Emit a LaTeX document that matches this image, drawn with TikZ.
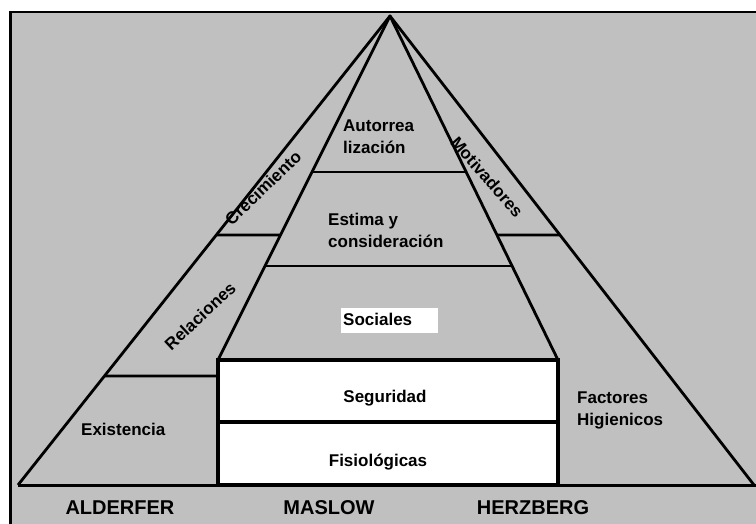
\documentclass[tikz,border=0pt]{standalone}
\usepackage{fontspec}
\setmainfont{Liberation Sans}
\usetikzlibrary{calc}
\definecolor{panel}{HTML}{C0C0C0}
\begin{document}
\begin{tikzpicture}[x=1pt,y=-1pt,
  edge/.style={line width=2.8pt, line join=round},
  boxline/.style={line width=3.6pt},
  lbl/.style={font=\fontsize{17}{22}\selectfont\bfseries, inner sep=0pt},
  theory/.style={font=\fontsize{20}{24}\selectfont\bfseries, inner sep=0pt},
  tag/.style={fill=white, inner sep=0pt, anchor=north west}
]
\useasboundingbox (0,0) rectangle (756,523);
\clip (0,0) rectangle (756,523);
\fill[white] (0,0) rectangle (756,523);
% grey panel
\draw[fill=panel, line width=2.5pt] (10.5,12) rectangle (780,540);

% pyramid geometry
\coordinate (apex) at (390,16);
\coordinate (outL) at (18,485);
\coordinate (outR) at (754,485);
\coordinate (inL) at (218,360);
\coordinate (inR) at (558,360);
\coordinate (baseR) at (760,485);

% lower Maslow levels
\fill[white] (218,360) rectangle (558,485);

% outer (Alderfer / Herzberg) and inner (Maslow) sides
\draw[edge] (outL) -- (apex) -- (outR);
\draw[edge] (inL) -- (apex) -- (inR);

% Maslow level separators
\draw[edge] ($(apex)!0.4535!(inL)$) -- ($(apex)!0.4535!(inR)$);
\draw[edge] ($(apex)!0.7267!(inL)$) -- ($(apex)!0.7267!(inR)$);

% Alderfer / Herzberg separators
\draw[edge] ($(apex)!0.467!(outL)$) -- ($(apex)!0.6366!(inL)$);
\draw[edge] ($(apex)!0.6366!(inR)$) -- ($(apex)!0.467!(outR)$);
\draw[edge] ($(apex)!0.7676!(outL)$) -- (218,376);

% base line
\draw[line width=3pt] (outL) -- (baseR);

% box of the two lowest levels
\draw[boxline] (218,360) rectangle (558,485);
\draw[boxline] (218,422) -- (558,422);

% Maslow labels
\node[lbl, anchor=base west] (autoA) at (343,131) {Autorrea};
\node[lbl, anchor=base west] (autoB) at (343,153) {lización};
\node[lbl, anchor=base west] (estA) at (328,225) {Estima y};
\node[lbl, anchor=base west] (estB) at (328,247) {consideración};
\node[tag, minimum width=97pt, minimum height=25pt] (socbox) at (341,308) {};
\node[lbl, anchor=base west] (soc) at (343,325) {Sociales};
\node[lbl, anchor=base] (seg) at (385,402) {Seguridad};
\node[lbl, anchor=base] (fis) at (378,466) {Fisiológicas};

% Alderfer labels
\node[lbl, rotate=44] (crec) at (263,188) {Crecimiento};
\node[lbl, rotate=43] (rel) at (200,316) {Relaciones};
\node[lbl, anchor=base west] (exi) at (81,435) {Existencia};

% Herzberg labels
\node[lbl, rotate=-49] (mot) at (487,177) {Motivadores};
\node[lbl, anchor=base west] (facA) at (577,403) {Factores};
\node[lbl, anchor=base west] (facB) at (577,425) {Higienicos};

% theory names
\node[theory, anchor=base] (ald) at (120,514) {ALDERFER};
\node[theory, anchor=base] (mas) at (329,514) {MASLOW};
\node[theory, anchor=base] (her) at (533,514) {HERZBERG};
\end{tikzpicture}
\end{document}
